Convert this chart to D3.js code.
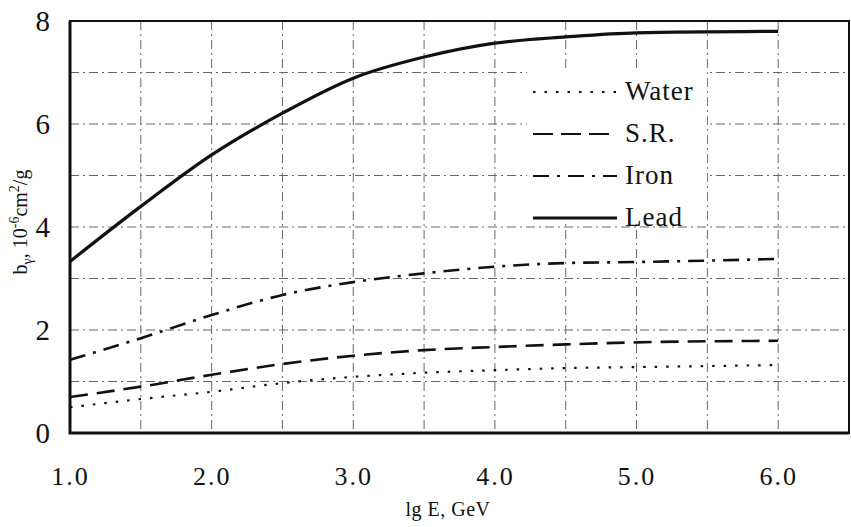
<!DOCTYPE html>
<html>
<head>
<meta charset="utf-8">
<script src="https://cdn.jsdelivr.net/npm/d3@7"></script>
<style>
    body { margin: 0; background: #fff; }
</style>
</head>
<body>
<svg id="chart" width="851" height="527"></svg>
<script>
const energy = [1.0, 1.5, 2.0, 2.5, 3.0, 3.5, 4.0, 4.5, 5.0, 6.0];
const water = [0.50, 0.66, 0.80, 0.97, 1.09, 1.17, 1.22, 1.26, 1.28, 1.32];
const sr = [0.70, 0.90, 1.13, 1.34, 1.50, 1.61, 1.67, 1.72, 1.76, 1.79];
const iron = [1.42, 1.84, 2.29, 2.68, 2.93, 3.10, 3.23, 3.30, 3.32, 3.38];
const lead = [3.33, 4.40, 5.40, 6.21, 6.89, 7.30, 7.57, 7.69, 7.77, 7.80];
const xTicks = [1, 2, 3, 4, 5, 6];
const yTicks = [0, 2, 4, 6, 8];

const serifFont = '"Liberation Serif"';

const series = [
    {name: 'Water', values: water, dash: '2.5,9', width: 2.2},
    {name: 'S.R.', values: sr, dash: '18,9', width: 2.6},
    {name: 'Iron', values: iron, dash: '16,8,3,8', width: 2.6},
    {name: 'Lead', values: lead, dash: null, width: 3.2}
];

const plotLeft = 70, plotRight = 849, plotTop = 21, plotBottom = 433;

const x = d3.scaleLinear().domain([1, 6.5]).range([plotLeft, plotRight]);
const y = d3.scaleLinear().domain([0, 8]).range([plotBottom, plotTop]);

const chart = d3.select('#chart');

// grid, dash-dot like the scanned original
const grid = chart.append('g')
    .attr('stroke', '#666')
    .attr('stroke-width', 1)
    .attr('stroke-dasharray', '9,4,2,4');
grid.selectAll('line.v')
    .data(d3.range(1.5, 6.01, 0.5))
    .enter().append('line')
    .attr('x1', d => x(d)).attr('x2', d => x(d))
    .attr('y1', plotTop).attr('y2', plotBottom);
grid.selectAll('line.h')
    .data(d3.range(1, 8))
    .enter().append('line')
    .attr('x1', plotLeft).attr('x2', plotRight)
    .attr('y1', d => y(d)).attr('y2', d => y(d));

// frame
chart.append('rect')
    .attr('x', plotLeft).attr('y', plotTop)
    .attr('width', plotRight - plotLeft).attr('height', plotBottom - plotTop)
    .attr('fill', 'none')
    .attr('stroke', '#111')
    .attr('stroke-width', 2);
chart.append('path')
    .attr('d', `M${plotLeft},${plotTop}V${plotBottom}H${plotRight}`)
    .attr('fill', 'none')
    .attr('stroke', '#111')
    .attr('stroke-width', 3);

// axes
const xAxis = chart.append('g')
    .attr('transform', `translate(0, ${plotBottom})`)
    .call(d3.axisBottom(x).tickValues(xTicks).tickFormat(d3.format('.1f')).tickSize(0).tickPadding(34))
    .attr('font-family', serifFont)
    .attr('font-size', 26);
xAxis.select('.domain').remove();
xAxis.selectAll('text')
    .attr('fill', '#111')
    .attr('letter-spacing', 2);

const yAxis = chart.append('g')
    .attr('transform', `translate(${plotLeft}, 0)`)
    .call(d3.axisLeft(y).tickValues(yTicks).tickFormat(d3.format('d')).tickSize(0).tickPadding(20))
    .attr('font-family', serifFont)
    .attr('font-size', 29);
yAxis.select('.domain').remove();
yAxis.selectAll('text')
    .attr('fill', '#111');

// curves
const line = d3.line()
    .x((_, i) => x(energy[i]))
    .y(d => y(d))
    .curve(d3.curveMonotoneX);

chart.selectAll('path.series')
    .data(series)
    .enter().append('path')
    .classed('series', true)
    .attr('d', d => line(d.values))
    .attr('fill', 'none')
    .attr('stroke', '#111')
    .attr('stroke-width', d => d.width)
    .attr('stroke-dasharray', d => d.dash);

// legend
const legend = chart.append('g')
    .attr('transform', 'translate(533, 90)');
legend.append('rect')
    .attr('x', -6).attr('y', -20)
    .attr('width', 180).attr('height', 150)
    .attr('fill', '#fff');
const item = legend.selectAll('g')
    .data(series)
    .enter().append('g')
    .attr('transform', (_, i) => `translate(0, ${i * 42})`);
item.append('line')
    .attr('x1', 0).attr('x2', 84)
    .attr('y1', 2).attr('y2', 2)
    .attr('stroke', '#111')
    .attr('stroke-width', d => d.width - 0.4)
    .attr('stroke-dasharray', d => d.name === 'S.R.' ? '20,8' : d.dash);
item.append('text')
    .attr('x', 92)
    .attr('y', 10)
    .attr('fill', '#111')
    .attr('font-family', serifFont)
    .attr('font-size', 27)
    .attr('letter-spacing', 1)
    .text(d => d.name);

// axis titles
chart.append('text')
    .attr('x', 448)
    .attr('y', 516)
    .attr('text-anchor', 'middle')
    .attr('fill', '#111')
    .attr('font-family', serifFont)
    .attr('font-size', 20)
    .attr('letter-spacing', 0.5)
    .text('lg E, GeV');

const yTitle = chart.append('text')
    .attr('transform', 'translate(27, 222) rotate(-90)')
    .attr('text-anchor', 'middle')
    .attr('fill', '#111')
    .attr('font-family', serifFont)
    .attr('font-size', 20);
yTitle.append('tspan').text('b');
yTitle.append('tspan').attr('dy', 5).attr('font-size', 14).text('γ');
yTitle.append('tspan').attr('dy', -5).text(', 10');
yTitle.append('tspan').attr('dy', -8).attr('font-size', 14).text('-6');
yTitle.append('tspan').attr('dy', 8).text('cm');
yTitle.append('tspan').attr('dy', -8).attr('font-size', 14).text('2');
yTitle.append('tspan').attr('dy', 8).text('/g');
</script>
</body>
</html>
